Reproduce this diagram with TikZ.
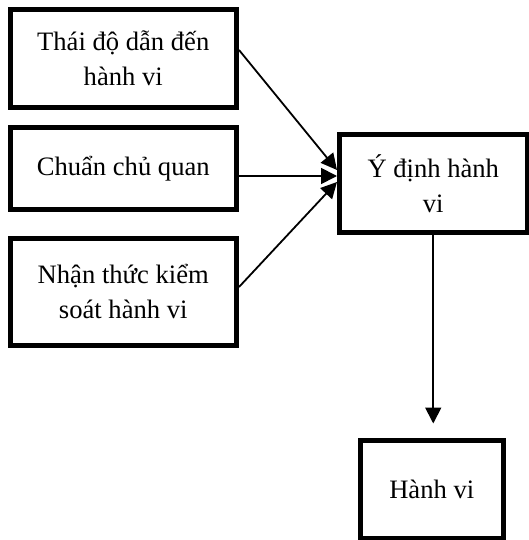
\documentclass[tikz,border=0pt]{standalone}
\usepackage{fontspec}
\setmainfont{Liberation Serif}
\usetikzlibrary{arrows.meta}
\tikzset{
  box/.style={draw=black, line width=5pt, fill=white, align=center, inner sep=0pt,
    font=\fontsize{26.6}{35}\selectfont},
  conn/.style={line width=1.8pt, -{Triangle[length=16pt,width=16pt]}}
}
\begin{document}
\begin{tikzpicture}[x=1pt,y=-1pt]
\useasboundingbox (0,0) rectangle (528,540);
\node[box, minimum width=226.5pt, minimum height=97.5pt] (b1) at (123.25,58.75) {Thái độ dẫn đến\\hành vi};
\node[box, minimum width=226.5pt, minimum height=81.5pt] (b2) at (123.25,168.75) {Chuẩn chủ quan};
\node[box, minimum width=226.5pt, minimum height=107.5pt] (b3) at (123.25,291.75) {Nhận thức kiểm\\soát hành vi};
\node[box, minimum width=187.5pt, minimum height=98pt] (b4) at (433.25,183.5) {Ý định hành\\vi};
\node[box, minimum width=143.5pt, minimum height=98.5pt] (b5) at (431.75,489.25) {Hành vi};
\draw[conn] ([yshift=8.75pt]b1.east) -- ([yshift=13.5pt]b4.west);
\draw[conn] ([yshift=-7.25pt]b2.east) -- ([yshift=7.5pt]b4.west);
\draw[conn] ([yshift=4.75pt]b3.east) -- ([yshift=1.5pt]b4.west);
\draw[conn, shorten >=14pt] (b4.south) -- (b4.south |- b5.north);
\end{tikzpicture}
\end{document}
